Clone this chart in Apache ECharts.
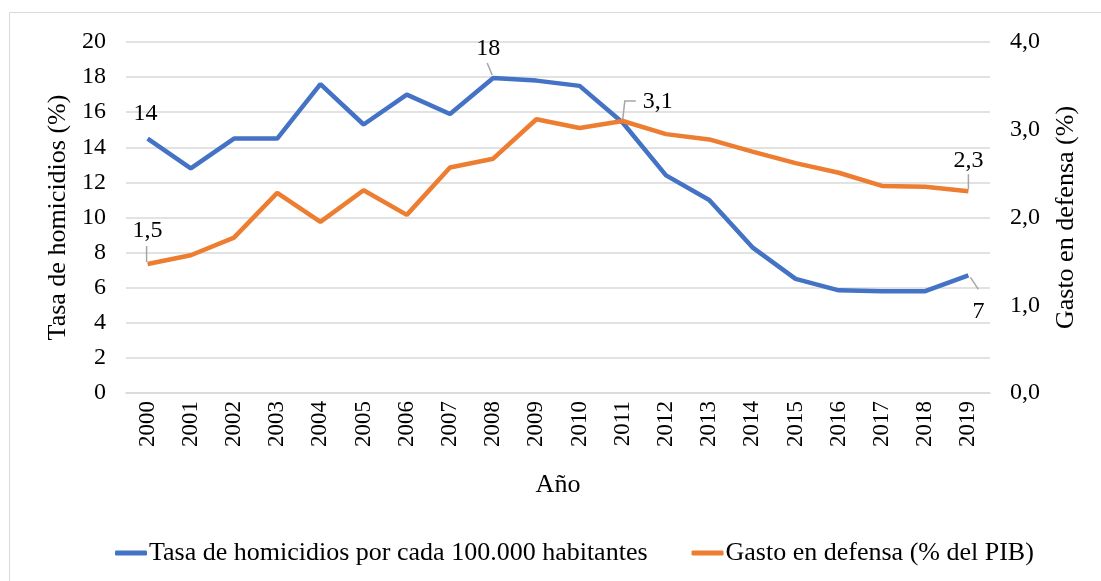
<html lang="es">
<head>
    <meta charset="UTF-8">
    <title>Homicidios y gasto en defensa</title>
    <script src="https://cdn.jsdelivr.net/npm/echarts@6/dist/echarts.min.js"></script>
</head>
<style>
    html, body { margin: 0; padding: 0; background: #fff; }
    #container { width: 1101px; height: 581px; }
</style>
<body>
<div id="container"></div>
<script>
    // datos
    var years = ['2000', '2001', '2002', '2003', '2004', '2005', '2006', '2007', '2008', '2009',
        '2010', '2011', '2012', '2013', '2014', '2015', '2016', '2017', '2018', '2019'];
    var homicidios = [14.5, 12.8, 14.5, 14.5, 17.6, 15.3, 17.0, 15.9, 17.95, 17.8,
        17.5, 15.4, 12.4, 11.0, 8.3, 6.5, 5.85, 5.8, 5.8, 6.7];
    var gasto = [1.47, 1.57, 1.77, 2.28, 1.95, 2.31, 2.03, 2.57, 2.67, 3.12,
        3.02, 3.10, 2.95, 2.89, 2.75, 2.62, 2.51, 2.36, 2.35, 2.30];
    // etiquetas de dato que aparecen en la figura
    var etiquetasHom = {0: '14', 8: '18', 19: '7'};
    var etiquetasGasto = {0: '1,5', 11: '3,1', 19: '2,3'};

    var font = 'Liberation Serif, Times New Roman, serif';

    var chart = echarts.init(document.getElementById('container'));

    function conEtiquetas(values, labels) {
        return values.map(function (v, i) {
            if (labels[i] === undefined) return v;
            return {
                value: v,
                label: {show: true, formatter: labels[i]}
            };
        });
    }

    // desplazamientos de etiquetas
    var desplaz = {
        '0-0': {dx: -2, dy: -8},
        '0-8': {dx: -5, dy: -12},
        '0-19': {dx: 10, dy: 53},
        '1-0': {dx: 0, dy: -16},
        '1-11': {dx: 35, dy: -2},
        '1-19': {dx: 0, dy: -13}
    };

    // líneas guía: [serie, índice, puntos relativos al punto de dato]
    var guias = [
        [0, 8, [[-6, -15], [-1, -3]]],
        [0, 19, [[2, 2], [10, 14]]],
        [1, 0, [[-1, -18], [-1, -2]]],
        [1, 11, [[0, -2], [2, -20], [13, -20]]],
        [1, 19, [[0, -17], [0, -2]]]
    ];

    var option = {
        animation: false,
        textStyle: {fontFamily: font},
        graphic: [{
            type: 'rect',
            shape: {x: 9.5, y: 12.5, width: 1200, height: 700},
            style: {fill: 'none', stroke: '#d9d9d9', lineWidth: 1},
            silent: true
        }],
        grid: {left: 126, right: 111, top: 42, bottom: 188},
        legend: {
            top: 535,
            left: 110,
            itemGap: 44,
            itemWidth: 32,
            itemHeight: 5,
            icon: 'roundRect',
            textStyle: {fontFamily: font, fontSize: 26, color: '#000', padding: [0, 0, 0, -3]},
            data: ['Tasa de homicidios por cada 100.000 habitantes', 'Gasto en defensa (% del PIB)']
        },
        xAxis: {
            type: 'category',
            data: years,
            boundaryGap: true,
            name: 'Año',
            nameLocation: 'middle',
            nameGap: 79,
            nameTextStyle: {fontFamily: font, fontSize: 26, color: '#000', verticalAlign: 'top'},
            axisLine: {lineStyle: {color: '#d9d9d9', width: 1.5}},
            axisTick: {show: false},
            axisLabel: {rotate: 90, fontFamily: font, fontSize: 23, color: '#000', margin: 8}
        },
        yAxis: [{
            type: 'value',
            min: 0, max: 20, interval: 2,
            name: 'Tasa de homicidios (%)',
            nameLocation: 'middle',
            nameGap: 54,
            nameTextStyle: {fontFamily: font, fontSize: 26, color: '#000'},
            axisLine: {show: false},
            axisTick: {show: false},
            axisLabel: {fontFamily: font, fontSize: 24, color: '#000', margin: 20},
            splitLine: {lineStyle: {color: '#d9d9d9', width: 1.5}}
        }, {
            type: 'value',
            min: 0, max: 4, interval: 1,
            name: 'Gasto en defensa (%)',
            nameLocation: 'middle',
            nameGap: 63,
            nameTextStyle: {fontFamily: font, fontSize: 26, color: '#000'},
            axisLine: {show: false},
            axisTick: {show: false},
            axisLabel: {
                fontFamily: font, fontSize: 24, color: '#000', margin: 20,
                formatter: function (v) { return v.toFixed(1).replace('.', ','); }
            },
            splitLine: {show: false}
        }],
        series: [{
            name: 'Tasa de homicidios por cada 100.000 habitantes',
            type: 'line',
            yAxisIndex: 0,
            data: conEtiquetas(homicidios, etiquetasHom),
            symbol: 'circle',
            symbolSize: 0,
            showSymbol: true,
            color: '#4472C4',
            lineStyle: {width: 4.5, color: '#4472C4'},
            label: {show: false, position: 'top', fontFamily: font, fontSize: 24, color: '#000'},
            labelLayout: function (p) { return desplaz['0-' + p.dataIndex] || {}; }
        }, {
            name: 'Gasto en defensa (% del PIB)',
            type: 'line',
            yAxisIndex: 1,
            data: conEtiquetas(gasto, etiquetasGasto),
            symbol: 'circle',
            symbolSize: 0,
            showSymbol: true,
            color: '#ED7D31',
            lineStyle: {width: 4.5, color: '#ED7D31'},
            label: {show: false, position: 'top', fontFamily: font, fontSize: 24, color: '#000'},
            labelLayout: function (p) { return desplaz['1-' + p.dataIndex] || {}; }
        }]
    };

    chart.setOption(option);

    // dibujar las líneas guía a partir de la posición de cada dato
    var series = [homicidios, gasto];
    var extra = guias.map(function (g) {
        var p = chart.convertToPixel({seriesIndex: g[0]}, [g[1], series[g[0]][g[1]]]);
        return {
            type: 'polyline',
            silent: true,
            z: 10,
            shape: {points: g[2].map(function (d) { return [p[0] + d[0], p[1] + d[1]]; })},
            style: {stroke: '#a6a6a6', lineWidth: 1.5, fill: null}
        };
    });
    chart.setOption({graphic: option.graphic.concat(extra)});
</script>
</body>
</html>
